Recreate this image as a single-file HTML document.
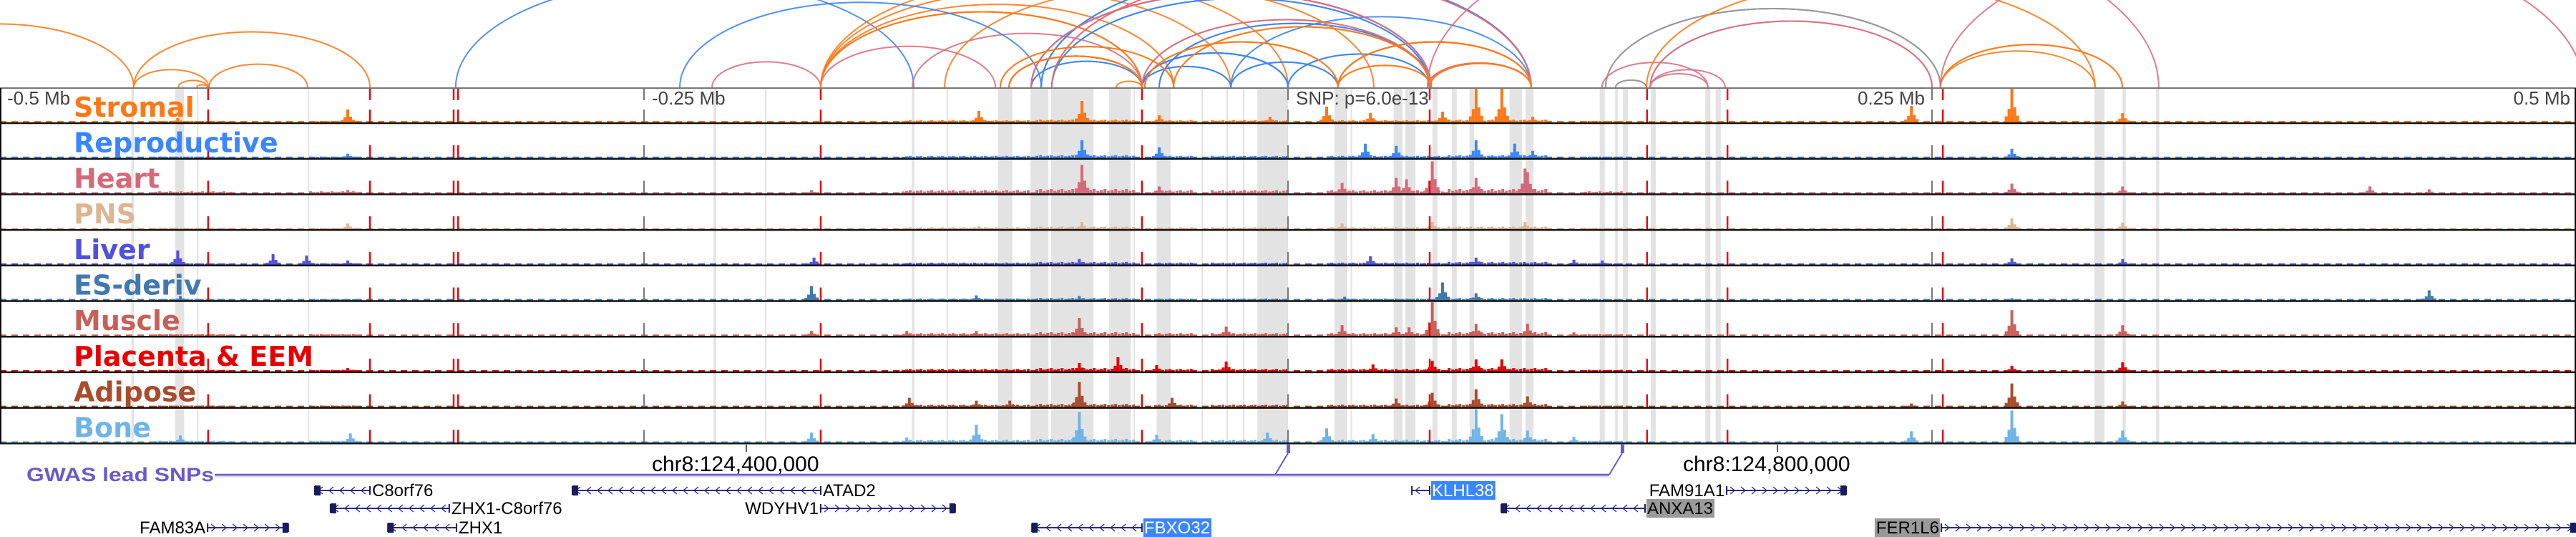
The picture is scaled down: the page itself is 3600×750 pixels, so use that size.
<!DOCTYPE html>
<html><head><meta charset="utf-8"><style>
html,body{margin:0;padding:0;background:#fff;}
svg{display:block;}
text{font-family:"Liberation Sans","DejaVu Sans",sans-serif;}
.lbl{font-family:"DejaVu Sans","Liberation Sans",sans-serif;font-weight:bold;font-size:38px;}
</style></head><body>
<svg id="chart" width="3600" height="750" viewBox="0 0 3600 750" xmlns="http://www.w3.org/2000/svg">
<g id="bands"></g>
<g id="bars"></g>
<g id="vlines"></g>
<g id="frame"></g>
<g id="labels"></g>
<g id="arcs"></g>
<g id="axis"></g>
<g id="gwas"></g>
<g id="genes"></g>
</svg>
<script>
// ---------- data (genomic offsets in kb relative to lead SNP) ----------
const trackNames = ["Stromal","Reproductive","Heart","PNS","Liver","ES-deriv","Muscle","Placenta & EEM","Adipose","Bone"];
const trackColors = ["#ff7716","#3a86ff","#d4697a","#deb591","#5050e0","#4178b0","#c8605a","#e60000","#a84c2c","#6fb4e8"];
const trackLevel = [1,1,1.6,0.9,1,0.8,1.3,1.2,1.1,1.3];
const peaksStromal = [[-431,6],[-365,18],[-120,16],[-80,30],[-50,10],[-7,8],[15,22],[32,13],[60,15],[73,48],[83,48],[95,8],[242,23],[281,48],[324,13]];
const peaksReproductive = [[-365,6],[-80,25],[-50,15],[30,20],[42,17],[73,25],[88,20],[95,10],[281,13]];
const peaksHeart = [[-185,5],[-365,5],[-80,40],[-50,10],[21,15],[42,22],[46,20],[56,45],[73,22],[92,35],[93,30],[281,14],[324,10],[420,10],[443,6]];
const peaksPNS = [[-365,8],[-120,4],[-80,10],[21,8],[56,10],[92,10],[281,15],[324,9]];
const peaksLiver = [[-431,20],[-394,15],[-381,13],[-365,6],[-184,10],[-81,8],[32,12],[73,10],[111,7],[122,6],[281,9],[324,8]];
const peaksES = [[-430,6],[-185,20],[-121,7],[-81,6],[22,5],[60,25],[73,10],[281,3],[443,14]];
const peaksMuscle = [[-185,7],[-148,7],[-121,7],[-81,25],[-24,13],[21,15],[42,12],[47,12],[56,48],[73,17],[93,17],[111,5],[281,36],[324,15]];
const peaksPlacenta = [[-365,5],[-81,12],[-66,20],[-51,9],[-24,14],[33,10],[56,15],[73,17],[83,17],[281,8],[324,13]];
const peaksAdipose = [[-147,13],[-121,9],[-108,9],[-81,35],[-45,13],[42,12],[56,20],[73,25],[93,15],[242,5],[281,33],[324,8]];
const peaksBone = [[-430,10],[-364,13],[-185,14],[-148,7],[-121,25],[-81,43],[-51,11],[-8,14],[15,20],[33,12],[73,48],[83,40],[93,17],[111,8],[242,16],[281,45],[324,17]];
const trackPeaks = [peaksStromal,peaksReproductive,peaksHeart,peaksPNS,peaksLiver,peaksES,peaksMuscle,peaksPlacenta,peaksAdipose,peaksBone];
const activeRegions = [[-150,-100,3],[-98,-60,4],[-52,-38,3],[-30,0,3],[15,60,3],[62,100,4],[115,130,2],[-440,-410,2],[-380,-360,2]];
const bandsKb = [[-449,-448],[-432,-428.5],[-423.5,-423],[-380.5,-380],[-223,-222],[-203,-202.5],[-146,-145],[-132.5,-132],[-112.5,-107],[-100,-93],[-92,-75.5],[-69.5,-61],[-60,-59.5],[-51,-45.5],[-33.6,-33],[-23.9,-23.3],[-17.5,-17],[-11.9,0],[18,23],[24.3,24.8],[41,44.5],[45.5,49.5],[56.1,58],[63.6,65.5],[70.5,72.2],[86,90.8],[92.2,95.3],[121,123],[127,128],[130,132],[140.8,142.8],[162,164],[166,168],[313,317],[324,325.2],[337,338.2]];
const redLinesKb = [-419.2,-356.4,-323.9,-322.2,-181.4,-56.7,55,139.4,170.6,254.2];
const tickKb = [-250,0,250];
const arcStart = [-552.8,-448.1,-418.9,-448.1,-430.8,-423.6,-323.1,-223.6,-181.4,-181.4,-181.4,-181.4,-181.4,-181.4,-181.4,-145.8,-236.1,
 -99.7,-99.7,-99.7,-99.7,-95.8,-95.8,-95.8,-91.7,-91.7,-56.7,-56.7,-56.7,-56.7,-56.7,-56.7,-22.2,-22.2,-22.2,-99.7,-99.7,0,0,-50,-50,
 -99.7,-99.7,-99.7,-108.3,-108.3,-108.3,-91.7,-91.7,19.4,19.4,54.2,54.2,-56.7,-56.7,54.2,
 -108.3,-108.3,-108.3,-111.7,-111.7,-55.6,-55.6,-55.6,-44.4,-44.4,19.4,19.4,19.4,55,55,19.4,19.4,-66.7,-133.3,
 123.3,123.3,123.3,140.6,140.6,121.9,140.6,140.6,127.2,127.2,139.2,253.3,253.3,253.3,253.3];
const arcEnd = [-448.1,-356.4,-380.6,-418.9,-419.4,-419.4,-145.3,-181.4,-113.6,-56.7,-56.7,-56.7,-44.4,-22.2,0,-56.7,-95.8,
 55.6,55.6,55.6,55.6,94.4,94.4,94.4,55,55,0,0,0,0,-22.2,-22.2,19.4,19.4,94.4,-56.7,-56.7,55,55,55.6,55.6,
 55.6,55.6,55.6,-56.7,-56.7,-56.7,94.4,94.4,94.4,94.4,94.4,94.4,55,55,338,
 -56.7,-56.7,-56.7,-44.4,-44.4,19.4,19.4,19.4,55.6,55.6,94.4,94.4,94.4,94.4,94.4,55.6,55.6,-56.7,33.3,
 253.3,253.3,253.3,250,250,163,163,169.7,139.2,139.2,313.3,323.9,323.9,313.3,502.8];
const arcKind = ["o","o","o","o","o","o","b","p","p","o","o","o","o","o","o","p","b",
 "b","b","b","b","b","b","b","b","b","b","b","b","b","b","b","b","b","b","b","b","b","b","b","b",
 "p","p","p","p","p","p","p","p","p","p","p","p","p","p","p",
 "o","o","o","o","o","o","o","o","o","o","o","o","o","o","o","o","o","o","o",
 "g","g","g","p","p","p","p","p","g","g","o","o","o","o","p"];
const geneNames = ["C8orf76","ZHX1-C8orf76","FAM83A","ZHX1","ATAD2","WDYHV1","FBXO32","KLHL38","ANXA13","FAM91A1","FER1L6"];
const geneStartKb = [-377.8,-371.7,-419.4,-349.4,-277.8,-181.4,-99.4,48.1,82.8,170.3,253.6];
const geneEndKb = [-356.4,-325.6,-388.1,-322.8,-181.4,-129.2,-56.7,55,138.6,216.7,500];
const geneStrand = [-1,-1,1,-1,-1,1,-1,-1,-1,1,1];
const geneRow = [0,1,2,2,0,1,2,0,1,0,2];
const geneLabelSide = ["r","r","l","r","r","l","r","r","r","l","l"];
const geneHighlight = ["","","","","","","blue","blue","gray","","gray"];
const snpKb = [0,129.7];

// ---------- scales ----------
const NS="http://www.w3.org/2000/svg";
const xOf = kb => 1800 + kb*3.6;
const TOP=124, TH=49.7;
const bottomOf = k => 172 + TH*k;
const colors = {o:"#ff7a1a",b:"#3d85f5",p:"#d8707f",g:"#9a9a9a"};
function mk(tag, attrs, parent){const e=document.createElementNS(NS,tag);for(const k in attrs)e.setAttribute(k,attrs[k]);parent.appendChild(e);return e;}

// bands
const gB=document.getElementById('bands');
bandsKb.forEach(b=>{
  const r=mk('rect',{x:xOf(b[0]),y:TOP,width:Math.max(2,xOf(b[1])-xOf(b[0])),height:496,fill:'#e3e3e3'},gB);
  
  
});

// bars
const gBars=document.getElementById('bars');
trackNames.forEach((n,k)=>{
  const g=mk('g',{},gBars);
  
  
  const base=bottomOf(k)-1, col=trackColors[k];
  mk('line',{x1:0,x2:3600,y1:base-1,y2:base-1,stroke:col,'stroke-width':2,'stroke-dasharray':'9 7'},g);
  activeRegions.forEach(r=>{
    const h=r[2]*trackLevel[k];
    for(let x=xOf(r[0]);x<xOf(r[1]);x+=5){
      const hh=h*(0.6+0.4*((Math.floor(x/5)%3)/2));
      mk('rect',{x:x,y:base-hh,width:4,height:hh,fill:col},g);
    }
  });
  trackPeaks[k].forEach(p=>{
    const cx=xOf(p[0]), h=Math.min(p[1],47);
    const b=mk('rect',{x:cx-2,y:base-h,width:4,height:h,fill:col},g);
    
    
    mk('rect',{x:cx-6,y:base-h*0.4,width:4,height:h*0.4,fill:col},g);
    mk('rect',{x:cx+2,y:base-h*0.45,width:4,height:h*0.45,fill:col},g);
    mk('rect',{x:cx-10,y:base-h*0.18,width:4,height:h*0.18,fill:col},g);
    mk('rect',{x:cx+6,y:base-h*0.2,width:4,height:h*0.2,fill:col},g);
  });
});

// vertical dashed lines
const gV=document.getElementById('vlines');
function dashLine(x,col,w,name){
  const g=mk('g',{},gV);
  
  
  mk('line',{x1:x,x2:x,y1:124,y2:140,stroke:col,'stroke-width':w},g);
  for(let k=0;k<10;k++){const b=bottomOf(k);mk('line',{x1:x,x2:x,y1:b-19,y2:b+1,stroke:col,'stroke-width':w},g);}
}
tickKb.forEach(t=>dashLine(xOf(t),'#777',2,'tick-line'));
redLinesKb.forEach(r=>dashLine(xOf(r),'#ee0000',2.5,'variant-line'));

// frame
const gF=document.getElementById('frame');
mk('line',{x1:0,x2:3600,y1:123,y2:123,stroke:'#777','stroke-width':2},gF);
for(let k=0;k<10;k++){mk('line',{x1:0,x2:3600,y1:bottomOf(k),y2:bottomOf(k),stroke:'#111','stroke-width':2.5},gF);}
mk('line',{x1:1,x2:1,y1:123,y2:bottomOf(9),stroke:'#111','stroke-width':2},gF);
mk('line',{x1:3599,x2:3599,y1:123,y2:bottomOf(9),stroke:'#111','stroke-width':2},gF);

// labels
const gL=document.getElementById('labels');
trackNames.forEach((n,k)=>{
  const t=mk('text',{x:103,y:bottomOf(k)-9,fill:trackColors[k],class:'lbl'},gL);
  t.textContent=n;
  
  
});

// arcs
const gA=document.getElementById('arcs');
const cp=mk('clipPath',{id:'arcclip'},gA);
mk('rect',{x:0,y:0,width:3600,height:122},cp);
const ag=mk('g',{'clip-path':'url(#arcclip)',fill:'none'},gA);
arcStart.forEach((s,i)=>{
  const x1=xOf(s),x2=xOf(arcEnd[i]);const rx=(x2-x1)/2, ry=rx*0.47;
  const p=mk('path',{d:`M${x1} 122 A${rx} ${ry} 0 0 1 ${x2} 122`,stroke:colors[arcKind[i]],'stroke-width':2,opacity:0.9},ag);
  
  
});

// axis labels
const gX=document.getElementById('axis');
[["-0.5 Mb",10,"start"],["-0.25 Mb",911,"start"],["SNP: p=6.0e-13",1811,"start"],["0.25 Mb",2690,"end"],["0.5 Mb",3592,"end"]].forEach(a=>{
  const t=mk('text',{x:a[1],y:146,'font-size':26,fill:'#444','text-anchor':a[2]},gX);
  t.textContent=a[0];
  
  
});
[["chr8:124,400,000",911,1043],["chr8:124,800,000",2352,2484]].forEach(a=>{
  mk('line',{x1:a[2],x2:a[2],y1:621,y2:631,stroke:'#222','stroke-width':1.5},gX);
  const t=mk('text',{x:a[1],y:658,'font-size':30,fill:'#000'},gX);
  t.textContent=a[0];
  
  
});

// GWAS
const gG=document.getElementById('gwas');
const gt=mk('text',{x:37,y:672,'font-size':27,'font-weight':'bold',fill:'#6a5acd','font-family':'DejaVu Sans, sans-serif',textLength:262,lengthAdjust:'spacingAndGlyphs'},gG);
gt.textContent='GWAS lead SNPs';


mk('line',{x1:300,x2:xOf(snpKb[1])-18,y1:665,y2:665,stroke:'#d8d2f5','stroke-width':3},gG);
mk('line',{x1:300,x2:xOf(snpKb[1])-18,y1:663,y2:663,stroke:'#6a5acd','stroke-width':2.5},gG);
snpKb.forEach(s=>{
  const x=xOf(s);
  mk('line',{x1:x-18,x2:x,y1:663,y2:633,stroke:'#6a5acd','stroke-width':2},gG);
  const r=mk('rect',{x:x-2,y:620,width:5,height:13,fill:'#6a5acd'},gG);
  
  
});

// genes
const gN=document.getElementById('genes');
const rowY=[685,710,737];
geneNames.forEach((n,i)=>{
  const g=mk('g',{},gN);
  
  
  const x1=xOf(geneStartKb[i]),x2=Math.min(3600,xOf(geneEndKb[i])),y=rowY[geneRow[i]];
  mk('line',{x1:x1,x2:x2,y1:y,y2:y,stroke:'#2b2b80','stroke-width':2},g);
  const d=geneStrand[i];
  for(let x=x1+8;x<x2-4;x+=15){
    mk('polyline',{points:`${x-3*d} ${y-5} ${x+3*d} ${y} ${x-3*d} ${y+5}`,fill:'none',stroke:'#2b2b80','stroke-width':1.3},g);
  }
  mk('line',{x1:x1,x2:x1,y1:y-6,y2:y+6,stroke:'#1a1a5e','stroke-width':2},g);
  mk('line',{x1:x2,x2:x2,y1:y-6,y2:y+6,stroke:'#1a1a5e','stroke-width':2},g);
  if(x2-x1>60) mk('rect',{x:d>0?x2-8:x1,y:y-7,width:8,height:14,fill:'#1a1a5e'},g);
  const side=geneLabelSide[i];
  const tx=side==='r'?x2+2:x1-2;
  const t=mk('text',{x:side==='r'?tx+1:tx-1,y:y+8,'font-size':24,'text-anchor':side==='r'?'start':'end',fill:geneHighlight[i]==='blue'?'#fff':'#000'},g);
  t.textContent=n;
  if(geneHighlight[i]){
    const tw=t.getComputedTextLength()+3;
    const bx=side==='r'?tx:tx-tw;
    const bg=mk('rect',{x:bx,y:y-13,width:tw,height:26,fill:geneHighlight[i]==='blue'?'#3a86ff':'#9a9a9a'},g);
    g.insertBefore(bg,t);
  }
});
</script>
</body></html>
